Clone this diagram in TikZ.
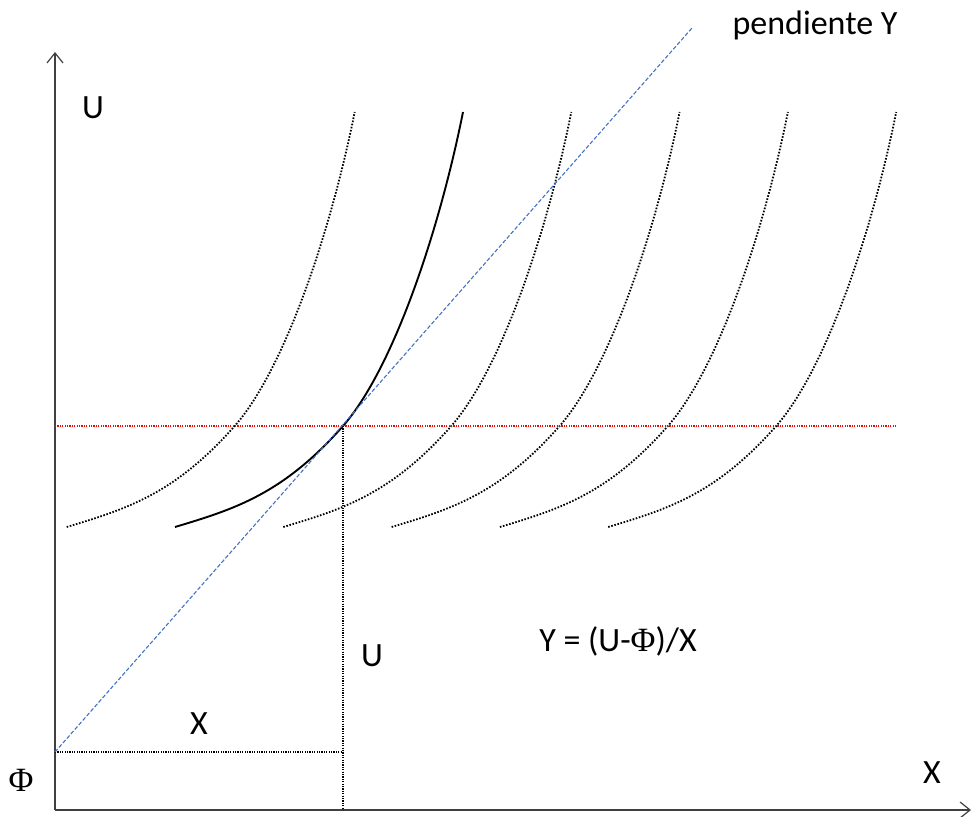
\documentclass[tikz,border=0pt]{standalone}
\usepackage{fontspec}
\setmainfont{Carlito}
\newfontfamily\phifont{Liberation Serif}
\usetikzlibrary{arrows.meta}
\definecolor{azul}{RGB}{68,114,196}
\tikzset{
	eje/.style={line width=1.4pt, color=black!75, -{Straight Barb[length=10pt,width=16pt,line width=1.2pt]}},
	curva/.style={line width=1.8pt, dash pattern=on 1.6pt off 1.6pt},
	guia/.style={line width=1.1pt, dash pattern=on 1.2pt off 1.2pt},
	etiqueta/.style={font=\fontsize{34}{36}\selectfont, inner sep=0pt}
}
\newcommand{\phis}{{\phifont Φ}}
\newcommand{\indif}{(175,527) .. controls (235,509) and (283,494) .. (343,426) .. controls (393,369) and (439,232) .. (463,112)}
\begin{document}
\begin{tikzpicture}[x=1pt, y=-1pt, line join=round]
	\useasboundingbox (0,0) rectangle (973,816);
	% puntos
	\coordinate (O) at (55,810);
	\coordinate (ytop) at (55,52);
	\coordinate (xend) at (971,810);
	\coordinate (F) at (55,752);
	\coordinate (T) at (343,426);
	\coordinate (Tx) at (343,810);
	\coordinate (Fx) at (343,752);
	\coordinate (Ty) at (55,426);
	\coordinate (R) at (897,426);
	\coordinate (P) at (692,28);
	% ejes
	\draw[eje] (O) -- (ytop);
	\draw[eje] (O) -- (xend);
	% curvas de indiferencia
	\foreach \s in {-1,1,2,3,4}
	\draw[curva, shift={(\s*108.3,0)}] \indif;
	\draw[line width=1.9pt] \indif;
	% rectas
	\draw[guia, red] (Ty) -- (R);
	\draw[guia, black] (T) -- (Tx);
	\draw[guia, black] (F) -- (Fx);
	\draw[azul, line width=1.1pt, dash pattern=on 4pt off 2pt] (F) -- (P);
	% textos
	\node[etiqueta] (lu) at (93,108) {U};
	\node[etiqueta] (lphi) at (21,780) {\phis};
	\node[etiqueta] (lx) at (932,773) {X};
	\node[etiqueta] (lxx) at (199,724) {X};
	\node[etiqueta] (luu) at (372,656) {U};
	\node[etiqueta] (lform) at (618,641) {Y = (U-\phis)/X};
	\node[etiqueta] (lpend) at (815,25) {pendiente Y};
\end{tikzpicture}
\end{document}
